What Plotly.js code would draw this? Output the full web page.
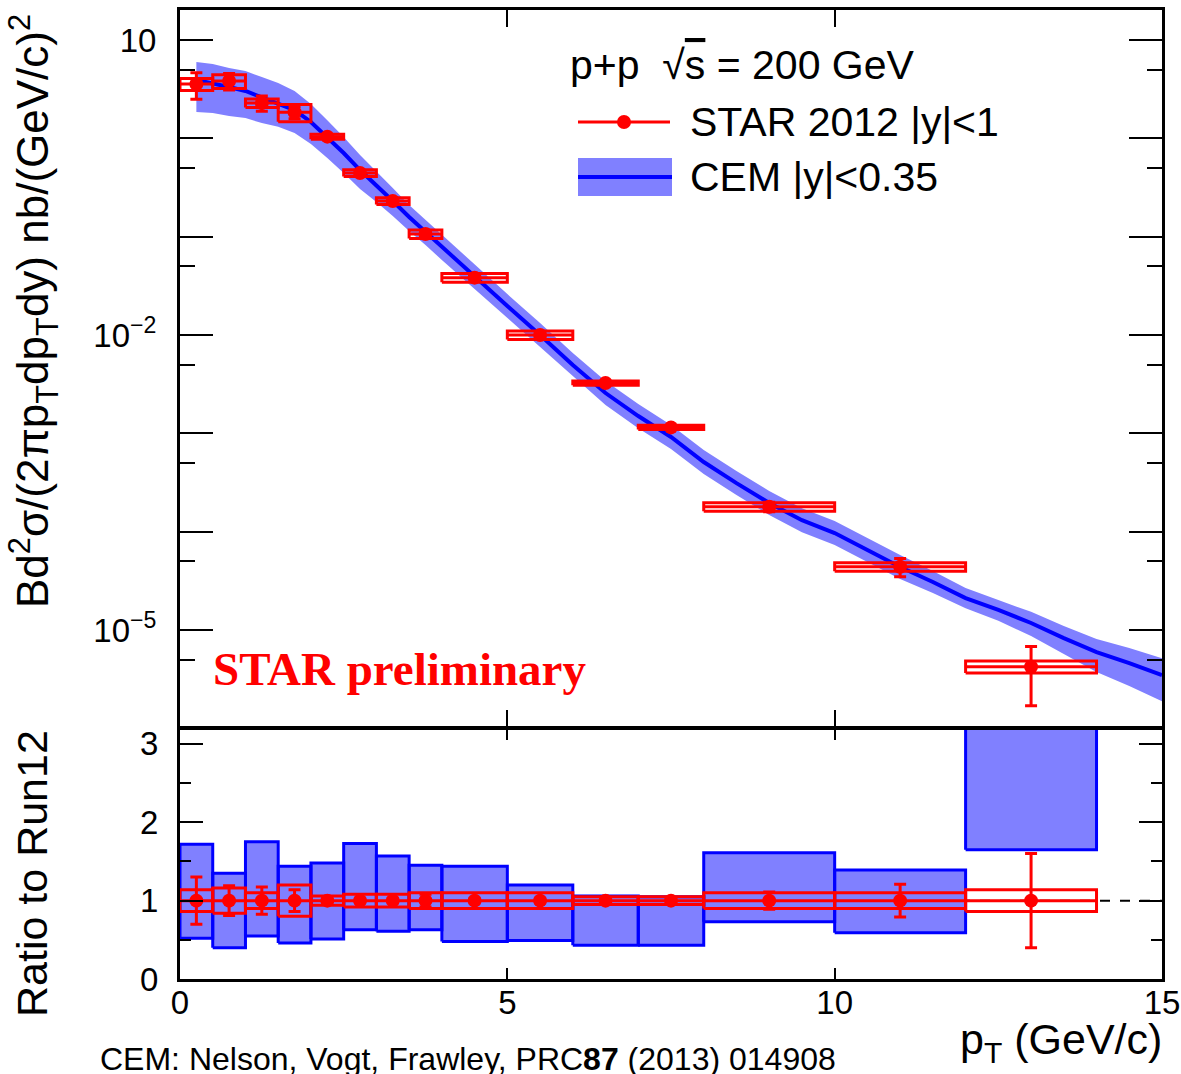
<!DOCTYPE html>
<html>
<head>
<meta charset="utf-8">
<script src="https://cdn.plot.ly/plotly-3.0.1.min.js"></script>
<style>html,body{margin:0;padding:0;background:#fff;}#plot{width:1181px;height:1074px;}</style>
</head>
<body>
<div id="plot"></div>
<script>
// ---------- STAR 2012 data (pT bins) ----------
const binLo = [0, 0.5, 1, 1.5, 2, 2.5, 3, 3.5, 4, 5, 6, 7, 8, 10, 12];
const binHi = [0.5, 1, 1.5, 2, 2.5, 3, 3.5, 4, 5, 6, 7, 8, 10, 12, 14];
const ptX   = [0.25, 0.75, 1.25, 1.75, 2.25, 2.75, 3.25, 3.75, 4.5, 5.5, 6.5, 7.5, 9, 11, 13];
const starY = [3.57, 3.83, 2.29, 1.84, 1.04, 0.444, 0.2307, 0.1064, 0.0383, 0.0100, 0.00325, 0.00115, 1.79e-4, 4.40e-5, 4.24e-6];
const statRel = [0.30, 0.19, 0.175, 0.14, 0.03, 0.03, 0.03, 0.08, 0.03, 0.03, 0.03, 0.03, 0.11, 0.21, 0.6];
const sysRel  = [0.14, 0.16, 0.10, 0.20, 0.06, 0.08, 0.08, 0.10, 0.10, 0.10, 0.05, 0.05, 0.10, 0.10, 0.14];

// ---------- CEM |y|<0.35 curve and band ----------
const cemX  = [0.25, 0.5, 0.75, 1, 1.25, 1.5, 1.75, 2, 2.25, 2.5, 2.75, 3, 3.25, 3.5, 3.75, 4, 4.5, 5, 5.5, 6, 6.5, 7, 7.5, 8, 8.5, 9, 9.5, 10, 10.5, 11, 11.5, 12, 12.5, 13, 13.5, 14, 14.5, 15];
const cemY  = [3.92, 3.65, 3.33, 3.03, 2.63, 2.29, 1.94, 1.466, 1.03, 0.709, 0.476, 0.335, 0.2305, 0.1585, 0.1115, 0.0785, 0.0389, 0.0197, 0.0100, 0.00495, 0.00257, 0.00150, 9.18e-4, 5.11e-4, 3.12e-4, 1.96e-4, 1.31e-4, 9.69e-5, 6.51e-5, 4.37e-5, 3.08e-5, 2.11e-5, 1.60e-5, 1.18e-5, 8.28e-6, 5.97e-6, 4.61e-6, 3.48e-6];
const cemHi = [5.98, 5.69, 5.19, 4.84, 4.20, 3.66, 3.03, 2.24, 1.53, 1.03, 0.676, 0.465, 0.313, 0.210, 0.148, 0.104, 0.0515, 0.0261, 0.01324, 0.00655, 0.00340, 0.00199, 1.215e-3, 6.77e-4, 4.13e-4, 2.60e-4, 1.73e-4, 1.283e-4, 8.62e-5, 5.79e-5, 3.99e-5, 2.67e-5, 2.02e-5, 1.53e-5, 1.096e-5, 8.10e-6, 6.55e-6, 5.18e-6];
const cemLo = [1.85, 1.81, 1.69, 1.61, 1.43, 1.31, 1.13, 0.875, 0.630, 0.444, 0.305, 0.225, 0.162, 0.114, 0.0823, 0.0579, 0.0294, 0.0149, 0.00755, 0.00374, 0.00194, 0.00113, 6.93e-4, 3.86e-4, 2.36e-4, 1.48e-4, 9.89e-5, 7.32e-5, 4.92e-5, 3.30e-5, 2.38e-5, 1.67e-5, 1.24e-5, 8.71e-6, 5.70e-6, 3.74e-6, 2.69e-6, 1.89e-6];

// ---------- Ratio CEM / Run12 band per bin ----------
const ratioHi = [1.72, 1.35, 1.75, 1.44, 1.48, 1.73, 1.57, 1.45, 1.44, 1.20, 1.06, 1.05, 1.61, 1.39, 3.5];
const ratioLo = [0.52, 0.40, 0.55, 0.46, 0.51, 0.63, 0.61, 0.63, 0.48, 0.49, 0.43, 0.43, 0.73, 0.59, 1.65];

// ---------- tick labels ----------
const logTickVals = [1e-5, 1e-4, 1e-3, 1e-2, 0.1, 1, 10];
const logTickText = ['10<sup>\u22125</sup>', ' ', ' ', '10<sup>\u22122</sup>', ' ', ' ', '10'];
const logMinorVals = [5e-6, 5e-5, 5e-4, 5e-3, 5e-2, 0.5, 5];
const ratioTickVals = [0, 1, 2, 3];
const ratioMinorVals = [0.5, 1.5, 2.5];
const xTickVals = [0, 5, 10, 15];

// ---------- helpers ----------
function boxes(x0s, x1s, y0s, y1s) {
  const xs = [], ys = [];
  for (let i = 0; i < x0s.length; i++) {
    xs.push(x0s[i], x1s[i], x1s[i], x0s[i], x0s[i], null);
    ys.push(y0s[i], y0s[i], y1s[i], y1s[i], y0s[i], null);
  }
  return {x: xs, y: ys};
}
const RED = '#ff0000', BLUE = '#0000ff', BAND = '#8080ff';
const halfW = ptX.map((x, i) => (binHi[i] - binLo[i]) / 2);

// top panel
const sysTopLo = starY.map((v, i) => v * (1 - sysRel[i]));
const sysTopHi = starY.map((v, i) => v * (1 + sysRel[i]));
const sysTop = boxes(binLo, binHi, sysTopLo, sysTopHi);

// ratio panel (Run12 / Run12 = 1)
const ratioData = starY.map(v => v / v);
const sysRatio = boxes(binLo, binHi, ratioData.map((r, i) => r - sysRel[i]), ratioData.map((r, i) => r + sysRel[i]));
const cemRatio = boxes(binLo, binHi, ratioLo, ratioHi);

const traces = [
  {x: cemX, y: cemLo, xaxis: 'x2', yaxis: 'y2', mode: 'lines', line: {width: 0, color: BAND}, hoverinfo: 'skip'},
  {x: cemX, y: cemHi, xaxis: 'x2', yaxis: 'y2', mode: 'lines', fill: 'tonexty', fillcolor: BAND, line: {width: 0, color: BAND}, hoverinfo: 'skip'},
  {x: cemX, y: cemY, xaxis: 'x2', yaxis: 'y2', mode: 'lines', line: {width: 4, color: BLUE}},
  {x: sysTop.x, y: sysTop.y, xaxis: 'x2', yaxis: 'y2', mode: 'lines', line: {width: 3, color: RED}, connectgaps: false},
  {x: ptX, y: starY, xaxis: 'x2', yaxis: 'y2', mode: 'markers',
   marker: {color: RED, size: 14, symbol: 'circle'},
   error_y: {type: 'data', array: starY.map((v, i) => v * statRel[i]), color: RED, thickness: 3, width: 6},
   error_x: {type: 'data', array: halfW, color: RED, thickness: 3, width: 0}},
  {x: [0, 15], y: [1, 1], xaxis: 'x', yaxis: 'y', mode: 'lines', line: {width: 2, color: '#000', dash: '10px,10px'}},
  {x: cemRatio.x, y: cemRatio.y, xaxis: 'x', yaxis: 'y', mode: 'lines', fill: 'toself', fillcolor: BAND, line: {width: 3, color: BLUE}},
  {x: sysRatio.x, y: sysRatio.y, xaxis: 'x', yaxis: 'y', mode: 'lines', line: {width: 3, color: RED}},
  {x: ptX, y: ratioData, xaxis: 'x', yaxis: 'y', mode: 'markers',
   marker: {color: RED, size: 14},
   error_y: {type: 'data', array: statRel, color: RED, thickness: 3, width: 6},
   error_x: {type: 'data', array: halfW, color: RED, thickness: 3, width: 0}}
];

const FONT = 'Liberation Sans, Arial, Helvetica, sans-serif';
const L = 180, R = 1162, T = 10, B = 979;
const px = v => (v - L) / (R - L);
const py = v => (B - v) / (B - T);

const axCommon = {linecolor: '#000', linewidth: 3, ticks: 'inside', tickcolor: '#000', tickwidth: 2,
                  showgrid: false, zeroline: false, mirror: 'ticks', tickfont: {family: FONT, size: 33, color: '#000'}};

const layout = {
  width: 1181, height: 1074,
  margin: {l: L, r: 1181 - R, t: T, b: 1074 - B},
  paper_bgcolor: '#fff', plot_bgcolor: '#fff',
  showlegend: false, hovermode: false,
  xaxis: Object.assign({}, axCommon, {domain: [0, 1], range: [0, 15], anchor: 'y', tickmode: 'array', tickvals: xTickVals, ticklen: 11, ticklabelstandoff: -8}),
  yaxis: Object.assign({}, axCommon, {domain: [0, py(729)], range: [0, 3.19], anchor: 'x', tickmode: 'array', tickvals: ratioTickVals, ticklen: 23, ticklabelstandoff: 12,
    minor: {tickmode: 'array', tickvals: ratioMinorVals, ticklen: 11, tickwidth: 2, tickcolor: '#000', ticks: 'inside'}}),
  xaxis2: Object.assign({}, axCommon, {domain: [0, 1], range: [0, 15], anchor: 'y2', tickmode: 'array', tickvals: xTickVals, ticklen: 17, showticklabels: false}),
  yaxis2: Object.assign({}, axCommon, {type: 'log', domain: [py(727), 1], range: [-5.986, 1.305], anchor: 'x2', tickmode: 'array', tickvals: logTickVals, ticktext: logTickText, ticklen: 33, ticklabelstandoff: 14,
    minor: {tickmode: 'array', tickvals: logMinorVals, ticklen: 15, tickwidth: 2, tickcolor: '#000', ticks: 'inside'}}),
  shapes: [
    {type: 'rect', xref: 'paper', yref: 'paper', x0: px(578), x1: px(672), y0: py(196), y1: py(158), fillcolor: BAND, line: {width: 0}},
    {type: 'line', xref: 'paper', yref: 'paper', x0: px(578), x1: px(672), y0: py(177), y1: py(177), line: {color: BLUE, width: 4}},
    {type: 'line', xref: 'paper', yref: 'paper', x0: px(578), x1: px(670), y0: py(122), y1: py(122), line: {color: RED, width: 3}},
    {type: 'circle', xref: 'paper', yref: 'paper', x0: px(617), x1: px(631), y0: py(129), y1: py(115), fillcolor: RED, line: {color: RED, width: 0}}
  ],
  annotations: [
    {xref: 'paper', yref: 'paper', x: px(568), y: py(65), xanchor: 'left', yanchor: 'middle', showarrow: false,
     text: 'p+p  \u221A<span style="text-decoration:overline">s</span> = 200 GeV', font: {family: FONT, size: 41, color: '#000'}},
    {xref: 'paper', yref: 'paper', x: px(688), y: py(122), xanchor: 'left', yanchor: 'middle', showarrow: false,
     text: 'STAR 2012 |y|&lt;1', font: {family: FONT, size: 41, color: '#000'}},
    {xref: 'paper', yref: 'paper', x: px(688), y: py(177), xanchor: 'left', yanchor: 'middle', showarrow: false,
     text: 'CEM |y|&lt;0.35', font: {family: FONT, size: 41, color: '#000'}},
    {xref: 'paper', yref: 'paper', x: px(211), y: py(669), xanchor: 'left', yanchor: 'middle', showarrow: false,
     text: '<b>STAR preliminary</b>', font: {family: 'Liberation Serif, Times New Roman, serif', size: 47, color: RED}},
    {xref: 'paper', yref: 'paper', x: px(34), y: py(311), xanchor: 'center', yanchor: 'middle', textangle: -90, showarrow: false,
     text: 'Bd<sup>2</sup>\u03C3/(2\u03C0p<sub>T</sub>dp<sub>T</sub>dy) nb/(GeV/c)<sup>2</sup>', font: {family: FONT, size: 44, color: '#000'}},
    {xref: 'paper', yref: 'paper', x: px(32), y: py(874), xanchor: 'center', yanchor: 'middle', textangle: -90, showarrow: false,
     text: 'Ratio to Run12', font: {family: FONT, size: 43, color: '#000'}},
    {xref: 'paper', yref: 'paper', x: px(1164), y: py(1042), xanchor: 'right', yanchor: 'middle', showarrow: false,
     text: 'p<sub>T</sub> (GeV/c)', font: {family: FONT, size: 43, color: '#000'}},
    {xref: 'paper', yref: 'paper', x: px(98), y: py(1059), xanchor: 'left', yanchor: 'middle', showarrow: false,
     text: 'CEM: Nelson, Vogt, Frawley, PRC<b>87</b> (2013) 014908', font: {family: FONT, size: 32, color: '#000'}}
  ]
};

Plotly.newPlot('plot', traces, layout, {displayModeBar: false, staticPlot: true});
</script>
</body>
</html>
